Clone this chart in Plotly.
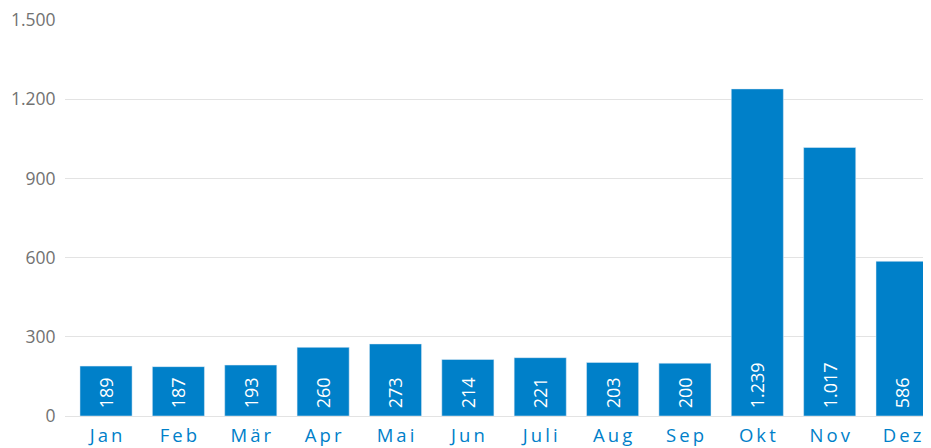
import plotly.graph_objects as go

months = ["Jan", "Feb", "Mär", "Apr", "Mai", "Jun", "Juli", "Aug", "Sep", "Okt", "Nov", "Dez"]
values = [189, 187, 193, 260, 273, 214, 221, 203, 200, 1239, 1017, 586]
y_ticks = [0, 300, 600, 900, 1200, 1500]

SP = "\u2009"
tick_text = [SP.join(list(m)) for m in months]

fig = go.Figure(
    go.Bar(
        x=list(range(len(months))),
        y=values,
        marker_color="#0080c9",
        texttemplate="\u00a0%{y:,}",
        textposition="inside",
        insidetextanchor="start",
        textangle=-90,
        textfont=dict(color="white", size=18, family="Open Sans"),
        constraintext="none",
        hoverinfo="skip",
    )
)

# the page body has an 8px margin, so the figure is 8px smaller and margins shifted
fig.update_layout(
    width=923,
    height=440,
    margin=dict(l=57, r=0, t=12, b=32, autoexpand=False),
    plot_bgcolor="white",
    paper_bgcolor="white",
    separators=",.",
    bargap=0.28,
    showlegend=False,
    font=dict(family="Open Sans"),
)
fig.update_xaxes(
    tickmode="array",
    tickvals=list(range(len(months))),
    ticktext=tick_text,
    range=[-0.567, 11.40],
    showgrid=False,
    zeroline=False,
    showline=False,
    tickfont=dict(color="#0080c9", size=18.5, family="Open Sans"),
    ticks="outside",
    ticklen=3,
    tickcolor="rgba(0,0,0,0)",
    automargin=False,
    ticklabeloverflow="allow",
)
fig.update_yaxes(
    range=[0, 1500],
    tickmode="array",
    tickvals=y_ticks,
    tickformat=",",
    showgrid=True,
    gridcolor="#e3e3e3",
    gridwidth=1,
    zeroline=True,
    zerolinecolor="#e3e3e3",
    zerolinewidth=1,
    showline=False,
    tickfont=dict(color="#727272", size=17.5, family="Open Sans"),
    ticks="outside",
    ticklen=5,
    tickcolor="rgba(0,0,0,0)",
    automargin=False,
    ticklabeloverflow="allow",
)

fig.write_html("out.html")
